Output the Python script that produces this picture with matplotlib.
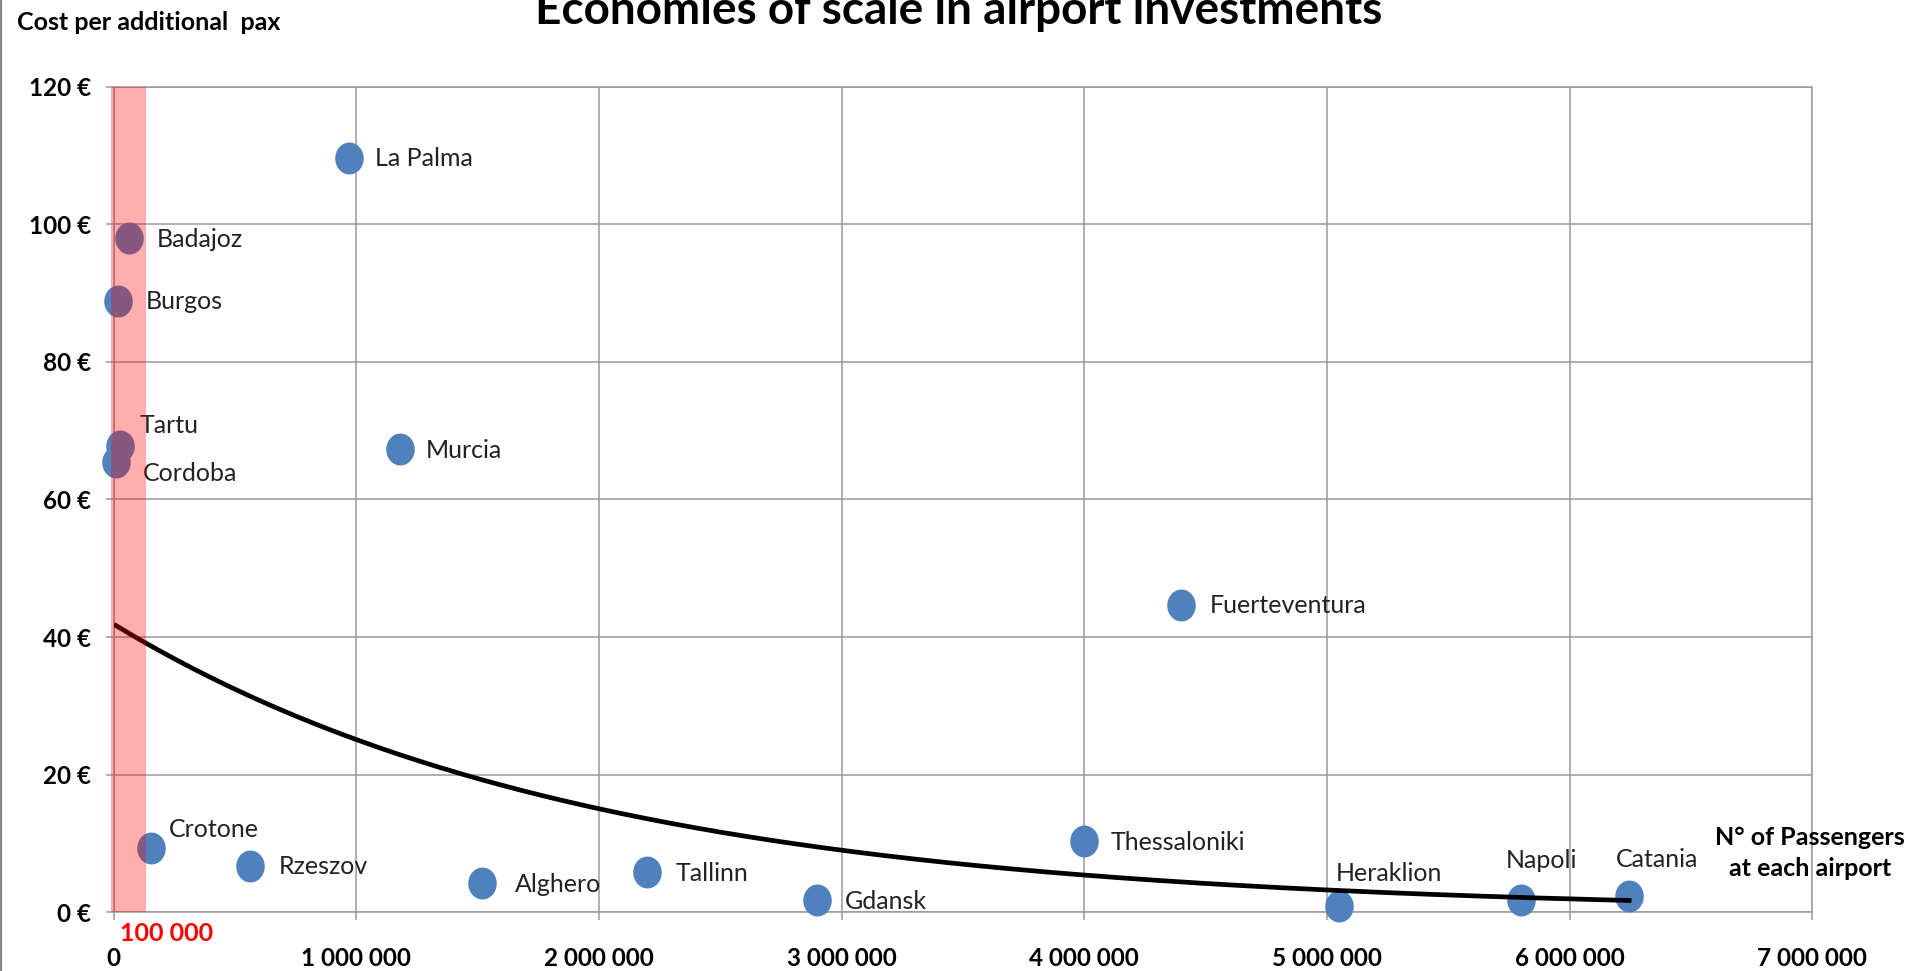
import numpy as np
import matplotlib.pyplot as plt
from matplotlib.path import Path
from matplotlib.lines import Line2D

# Airport data: yearly passengers vs. investment cost per additional passenger
airports = ["La Palma", "Badajoz", "Burgos", "Tartu", "Cordoba", "Murcia",
            "Fuerteventura", "Crotone", "Rzeszov", "Alghero", "Tallinn",
            "Gdansk", "Thessaloniki", "Heraklion", "Napoli", "Catania"]
passengers = [970000, 65000, 20000, 25000, 10000, 1180000,
              4400000, 155000, 563000, 1520000, 2200000,
              2900000, 4000000, 5050000, 5800000, 6245000]
cost_per_pax = [109.7, 98.0, 88.9, 67.8, 65.5, 67.3,
                44.7, 9.4, 6.7, 4.3, 5.9,
                1.8, 10.3, 0.9, 1.8, 2.3]

x_ticks = [0, 1000000, 2000000, 3000000, 4000000, 5000000, 6000000, 7000000]
x_tick_labels = ["0", "1 000 000", "2 000 000", "3 000 000", "4 000 000",
                 "5 000 000", "6 000 000", "7 000 000"]
y_ticks = [0, 20, 40, 60, 80, 100, 120]
y_tick_labels = ["0 €", "20 €", "40 €", "60 €", "80 €", "100 €", "120 €"]

# small-airport zone (shaded band)
band_start, band_end = -12000, 133000

# label offsets in pixels (dx, dy)
label_offsets = {
    "La Palma": (26, -1), "Badajoz": (27, -1), "Burgos": (27, -1),
    "Tartu": (20, 20), "Cordoba": (27, -12), "Murcia": (26, -1),
    "Fuerteventura": (28, -1), "Crotone": (18, 18), "Rzeszov": (29, 0),
    "Alghero": (32, -2), "Tallinn": (28, -2), "Gdansk": (28, -2),
    "Thessaloniki": (26, -1), "Heraklion": (-3, 33), "Napoli": (-15, 39),
    "Catania": (-13, 37),
}

plt.rcParams["font.family"] = ["Lato", "DejaVu Sans"]

BLUE = "#4F81BD"
GRID = "#9A9A9A"

fig = plt.figure(figsize=(19.15, 9.71), dpi=100)
ax = fig.add_axes([0.0593, 0.0605, 0.8871, 0.8502])

ax.set_xlim(0, 7000000)
ax.set_ylim(0, 120)
ax.set_xticks(x_ticks)
ax.set_xticklabels(x_tick_labels)
ax.set_yticks(y_ticks)
ax.set_yticklabels(y_tick_labels)
ax.grid(True, color=GRID, linewidth=1.1)
ax.set_axisbelow(True)
for side in ax.spines.values():
    side.set_color(GRID)
    side.set_linewidth(1.1)
ax.tick_params(axis="both", direction="out", length=6, width=1.1, color=GRID,
               labelsize=17.5)
ax.tick_params(axis="x", pad=19)
ax.tick_params(axis="y", pad=10)
for lab in ax.get_xticklabels() + ax.get_yticklabels():
    lab.set_fontweight("bold")

# slightly tall ellipse marker
t = np.linspace(0, 2 * np.pi, 64)
ell = Path(np.column_stack([np.cos(t), 1.12 * np.sin(t)]), closed=True)
ax.plot(passengers, cost_per_pax, linestyle="none", marker=ell, markersize=23,
        color=BLUE, markeredgewidth=0, zorder=3, clip_on=False)

# exponential trendline fitted on the points
xs = np.array(passengers, dtype=float)
ys = np.array(cost_per_pax, dtype=float)
b, ln_a = np.polyfit(xs, np.log(ys), 1)
xt = np.linspace(xs.min(), xs.max(), 300)
ax.plot(xt, np.exp(ln_a) * np.exp(b * xt), color="black", linewidth=3.4, zorder=4)

for name, px, py in zip(airports, passengers, cost_per_pax):
    dx, dy = label_offsets[name]
    ax.annotate(name, (px, py), xytext=(dx, dy), textcoords="offset pixels",
                ha="left", va="center", fontsize=18, color="#222222", zorder=5)

# shaded band for airports under 100 000 pax, drawn over the points
ax.axvspan(band_start, band_end, color="#FF0000", alpha=0.32, linewidth=0,
           zorder=6, clip_on=False)
fig.text(120 / 1915, 1 - 933 / 971, "100 000", color="#FF0000", fontsize=18,
         fontweight="bold", ha="left", va="center")

fig.text(1810 / 1915, 1 - 853 / 971, "N° of Passengers\nat each airport",
         ha="center", va="center", fontsize=18, fontweight="bold",
         linespacing=1.45)
fig.text(17 / 1915, 1 - 23 / 971, "Cost per additional  pax", ha="left",
         va="center", fontsize=18, fontweight="bold")
fig.text(959 / 1915, 1 - 24 / 971, "Economies of scale in airport investments",
         ha="center", va="baseline", fontsize=33, fontweight="bold")

# thin border on the left edge
fig.add_artist(Line2D([1.5 / 1915, 1.5 / 1915], [0, 1], transform=fig.transFigure,
                      color="#8C8C8C", linewidth=1.6))

fig.savefig("out.png", dpi=100)
